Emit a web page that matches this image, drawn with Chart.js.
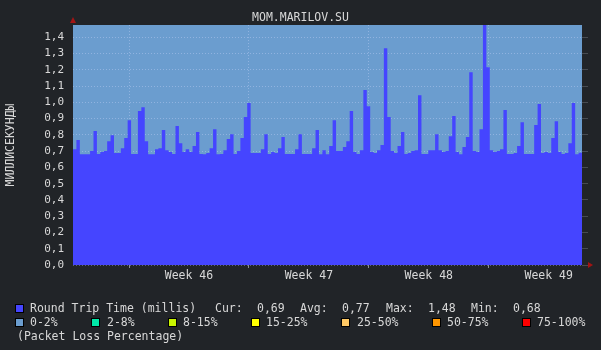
<!DOCTYPE html>
<html lang="ru">

<head>
    <meta charset="UTF-8">
    <title>MOM.MARILOV.SU</title>
    <style>
        body {
            margin: 0;
            padding: 0;
            background-color: #212428;
        }

        #wrap {
            position: relative;
            width: 601px;
            height: 350px;
            background-color: #212428;
            color: #d8d8d8;
            font-family: 'DejaVu Sans Mono', monospace;
            font-size: 11.5px;
        }

        #wrap canvas {
            position: absolute;
            left: 0;
            top: 0;
        }

        .txt {
            position: absolute;
            white-space: pre;
            line-height: 14px;
        }

        .sq {
            position: absolute;
            width: 7px;
            height: 7px;
            border: 1px solid #000;
        }

        #title {
            left: 0;
            width: 601px;
            top: 10px;
            text-align: center;
        }

        #ylabel {
            left: 10px;
            top: 145px;
            transform: translate(-50%, -50%) rotate(-90deg);
        }
    </style>
    <script src="https://cdn.jsdelivr.net/npm/chart.js"></script>
</head>

<body>
    <div id="wrap">
        <canvas id="rttChart" width="601" height="350"></canvas>
        <div class="txt" id="title">MOM.MARILOV.SU</div>
        <div class="txt" id="ylabel">МИЛЛИСЕКУНДЫ</div>
        <div id="legend"></div>
    </div>

    <script>
        // round trip time per step (ms)
        const rtt = [
            0.712, 0.768, 0.68, 0.68, 0.68, 0.70, 0.823, 0.682, 0.694, 0.70,
            0.761, 0.798, 0.688, 0.688, 0.718, 0.78, 0.89, 0.682, 0.682, 0.946,
            0.97, 0.761, 0.68, 0.68, 0.712, 0.718, 0.829, 0.706, 0.694, 0.682,
            0.854, 0.749, 0.694, 0.712, 0.694, 0.731, 0.817, 0.682, 0.68, 0.688,
            0.718, 0.835, 0.68, 0.682, 0.706, 0.774, 0.804, 0.682, 0.70, 0.78,
            0.909, 0.995, 0.688, 0.688, 0.688, 0.712, 0.804, 0.682, 0.694, 0.688,
            0.718, 0.786, 0.682, 0.682, 0.682, 0.712, 0.804, 0.682, 0.682, 0.682,
            0.718, 0.829, 0.68, 0.706, 0.68, 0.731, 0.89, 0.70, 0.70, 0.725,
            0.761, 0.946, 0.694, 0.682, 0.706, 1.075, 0.976, 0.694, 0.688, 0.706,
            0.737, 1.332, 0.909, 0.70, 0.688, 0.731, 0.817, 0.682, 0.688, 0.70,
            0.706, 1.044, 0.682, 0.682, 0.706, 0.706, 0.804, 0.706, 0.694, 0.70,
            0.792, 0.915, 0.694, 0.68, 0.725, 0.786, 1.185, 0.70, 0.694, 0.835,
            1.48, 1.216, 0.706, 0.694, 0.70, 0.712, 0.952, 0.682, 0.682, 0.688,
            0.731, 0.878, 0.682, 0.682, 0.682, 0.86, 0.989, 0.688, 0.694, 0.688,
            0.78, 0.884, 0.694, 0.682, 0.688, 0.749, 0.995, 0.68, 0.69
        ];

        // week boundaries and label positions, in steps
        const weekStarts = [16.4, 51.5, 86.6, 121.7];
        const weekMids = [33.95, 69.05, 104.15, 139.25];
        const weekLabels = ['Week 46', 'Week 47', 'Week 48', 'Week 49'];

        const yTickValues = [0, 0.1, 0.2, 0.3, 0.4, 0.5, 0.6, 0.7, 0.8, 0.9, 1.0, 1.1, 1.2, 1.3, 1.4];
        const yMax = 1.475;

        const statNames = ['Cur:', 'Avg:', 'Max:', 'Min:'];
        const statValues = ['0,69', '0,77', '1,48', '0,68'];

        const lossLabels = ['0-2%', '2-8%', '8-15%', '15-25%', '25-50%', '50-75%', '75-100%'];
        const lossColors = ['#6b9dcf', '#00e8a8', '#c8f400', '#ffff00', '#ffc864', '#ff9600', '#ff0000'];

        // legend (positions only)
        const legend = document.getElementById('legend');
        function addText(str, x, yc) {
            const d = document.createElement('div');
            d.className = 'txt';
            d.textContent = str;
            d.style.left = x + 'px';
            d.style.top = (yc - 7) + 'px';
            legend.appendChild(d);
        }
        function addSquare(color, x, yc) {
            const d = document.createElement('div');
            d.className = 'sq';
            d.style.background = color;
            d.style.left = x + 'px';
            d.style.top = (yc - 4.5) + 'px';
            legend.appendChild(d);
        }
        addSquare('#4545ff', 15, 308);
        addText('Round Trip Time (millis)', 30, 308);
        const statX = [215, 300, 386, 471];
        statNames.forEach((n, i) => {
            addText(n, statX[i], 308);
            addText(statValues[i], statX[i] + 42, 308);
        });
        const sqX = [15, 91, 168, 251, 341, 432, 522];
        const txX = [30, 107, 183, 266, 357, 447, 537];
        lossLabels.forEach((l, i) => {
            addSquare(lossColors[i], sqX[i], 322);
            addText(l, txX[i], 322);
        });
        addText('(Packet Loss Percentage)', 17, 336);

        // plot background + red arrows
        const frame = {
            id: 'frame',
            beforeDraw(chart) {
                const a = chart.chartArea;
                const c = chart.ctx;
                c.save();
                c.fillStyle = lossColors[0];
                c.fillRect(a.left, a.top, a.right - a.left, a.bottom - a.top);
                c.restore();
            },
            afterDraw(chart) {
                const a = chart.chartArea;
                const c = chart.ctx;
                c.save();
                c.fillStyle = '#a31414';
                c.beginPath();
                c.moveTo(a.left - 3, a.top - 2);
                c.lineTo(a.left + 3, a.top - 2);
                c.lineTo(a.left, a.top - 8);
                c.closePath();
                c.fill();
                c.beginPath();
                c.moveTo(a.right + 6, a.bottom - 3);
                c.lineTo(a.right + 6, a.bottom + 3);
                c.lineTo(a.right + 11, a.bottom);
                c.closePath();
                c.fill();
                c.restore();
            }
        };

        const points = rtt.map((v, i) => ({ x: i, y: v }));
        points.push({ x: rtt.length, y: rtt[rtt.length - 1] });

        const gridColor = 'rgba(215, 220, 255, 0.35)';
        const tickFont = { family: 'DejaVu Sans Mono', size: 11 };

        const ctx = document.getElementById('rttChart').getContext('2d');
        const chart = new Chart(ctx, {
            type: 'line',
            data: {
                datasets: [{
                    label: 'Round Trip Time (millis)',
                    data: points,
                    stepped: true,
                    fill: 'origin',
                    backgroundColor: '#4545ff',
                    borderWidth: 0,
                    pointRadius: 0
                }]
            },
            options: {
                responsive: false,
                animation: false,
                layout: { padding: { left: 0, right: 11, top: 25, bottom: 65 } },
                plugins: {
                    legend: { display: false },
                    tooltip: { enabled: false }
                },
                scales: {
                    x: {
                        type: 'linear',
                        min: 0,
                        max: rtt.length,
                        z: 1,
                        afterBuildTicks: s => {
                            s.ticks = weekStarts.concat(weekMids).sort((a, b) => a - b).map(v => ({ value: v }));
                        },
                        afterFit: s => { s.height = 20; },
                        ticks: {
                            autoSkip: false,
                            maxRotation: 0,
                            padding: 1,
                            color: '#d8d8d8',
                            font: { family: 'DejaVu Sans Mono', size: 11.5 },
                            callback: v => {
                                const k = weekMids.indexOf(v);
                                return k >= 0 ? weekLabels[k] : '';
                            }
                        },
                        grid: {
                            color: c => (c.tick && weekStarts.includes(c.tick.value)) ? gridColor : 'transparent',
                            tickColor: c => (c.tick && weekStarts.includes(c.tick.value)) ? '#8a8e94' : 'transparent',
                            tickLength: 3
                        },
                        border: { display: false, dash: [1, 2] }
                    },
                    y: {
                        min: 0,
                        max: yMax,
                        z: 1,
                        afterBuildTicks: s => { s.ticks = yTickValues.map(v => ({ value: v })); },
                        afterFit: s => { s.width = 73; },
                        ticks: {
                            color: '#d8d8d8',
                            font: tickFont,
                            padding: 9,
                            callback: v => v.toFixed(1).replace('.', ',')
                        },
                        grid: { color: gridColor, drawTicks: false },
                        border: { display: false, dash: [1, 2] }
                    },
                    y2: {
                        position: 'right',
                        min: 0,
                        max: yMax,
                        afterBuildTicks: s => { s.ticks = yTickValues.map(v => ({ value: v })); },
                        afterFit: s => { s.width = 8; },
                        ticks: { display: false },
                        grid: { drawOnChartArea: false, color: '#474b51', tickLength: 6 },
                        border: { display: false }
                    }
                }
            },
            plugins: [frame]
        });
    </script>
</body>

</html>
